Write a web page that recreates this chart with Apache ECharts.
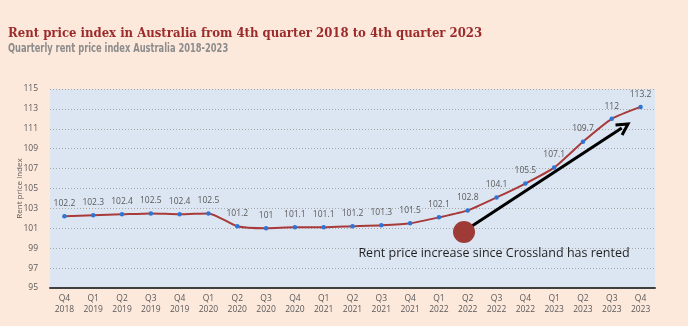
<!DOCTYPE html>
<html>
<head>
<meta charset="utf-8">
<script src="https://cdn.jsdelivr.net/npm/echarts@6/dist/echarts.min.js"></script>
<style>
  html, body { margin: 0; padding: 0; background: #fde9dc; }
  #chart { width: 688px; height: 326px; }
</style>
</head>
<body>
<div id="chart"></div>
<script>
// Quarterly rent price index, Australia
const quarters = ['Q4','Q1','Q2','Q3','Q4','Q1','Q2','Q3','Q4','Q1','Q2','Q3','Q4','Q1','Q2','Q3','Q4','Q1','Q2','Q3','Q4'];
const years = ['2018','2019','2019','2019','2019','2020','2020','2020','2020','2021','2021','2021','2021','2022','2022','2022','2022','2023','2023','2023','2023'];
const rentIndex = [102.2, 102.3, 102.4, 102.5, 102.4, 102.5, 101.2, 101, 101.1, 101.1, 101.2, 101.3, 101.5, 102.1, 102.8, 104.1, 105.5, 107.1, 109.7, 112, 113.2];
const yTicks = [95, 97, 99, 101, 103, 105, 107, 109, 111, 113, 115];

const categories = quarters.map((q, i) => q + '\n' + years[i]);

// Arrow annotation geometry
const arrowFrom = [472, 226];
const arrowTo = [628, 124];
function arrowHead(from, to, len, half) {
  const dx = to[0] - from[0], dy = to[1] - from[1];
  const d = Math.sqrt(dx * dx + dy * dy);
  const ux = dx / d, uy = dy / d;
  const bx = to[0] - ux * len, by = to[1] - uy * len;
  return [[to[0], to[1]], [bx - uy * half, by + ux * half], [bx + uy * half, by - ux * half]];
}
const head = arrowHead(arrowFrom, arrowTo, 11, 6);
const shaftEnd = [arrowTo[0] - (arrowTo[0] - arrowFrom[0]) * 0.04, arrowTo[1] - (arrowTo[1] - arrowFrom[1]) * 0.04];

const chart = echarts.init(document.getElementById('chart'));
chart.setOption({
  backgroundColor: '#fde9dc',
  animation: false,
  title: {
    text: 'Rent price index in Australia from 4th quarter 2018 to 4th quarter 2023',
    left: 3, top: 22,
    textStyle: { fontFamily: 'DejaVu Serif Condensed, DejaVu Serif', fontWeight: 'bold', fontSize: 13, color: '#9b2b2b' }
  },
  grid: {
    left: 50, right: 33, top: 89, bottom: 38,
    show: true, backgroundColor: '#dce6f2', borderWidth: 0
  },
  xAxis: {
    type: 'category',
    data: categories,
    boundaryGap: true,
    axisLine: { lineStyle: { color: '#404040', width: 2 } },
    axisTick: { show: false },
    axisLabel: { color: '#595959', fontSize: 8.5, lineHeight: 11, fontFamily: 'Open Sans', margin: 5 }
  },
  yAxis: {
    type: 'value',
    min: 95, max: 115, interval: 2,
    name: 'Rent price index',
    nameLocation: 'middle',
    nameGap: 26,
    nameMoveOverlap: false,
    nameTextStyle: { color: '#595959', fontSize: 8, fontFamily: 'Open Sans' },
    axisLine: { show: false },
    axisTick: { show: false },
    axisLabel: {
      color: '#595959', fontSize: 8.5, fontFamily: 'Open Sans', margin: 12,
      formatter: v => (yTicks.indexOf(v) >= 0 ? String(v) : '')
    },
    splitLine: { lineStyle: { color: '#a6a6a6', type: [1, 2], width: 1 } }
  },
  series: [{
    type: 'line',
    data: rentIndex,
    smooth: 0.2,
    symbol: 'circle',
    symbolSize: 4.5,
    lineStyle: { color: '#a83a3a', width: 2 },
    itemStyle: { color: '#2e74d6' },
    label: { show: true, position: 'top', distance: 6, color: '#595959', fontSize: 8.5, fontFamily: 'Open Sans' },
    z: 3
  }],
  graphic: [
    {
      // condensed subtitle
      type: 'text',
      x: 8, y: 49,
      scaleX: 0.74,
      style: {
        text: 'Quarterly rent price index Australia 2018-2023',
        fill: '#8c8c8c', font: 'bold 12.5px "DejaVu Sans Condensed"',
        align: 'left', verticalAlign: 'middle'
      }
    },
    {
      type: 'line',
      shape: { x1: arrowFrom[0], y1: arrowFrom[1], x2: shaftEnd[0], y2: shaftEnd[1] },
      style: { stroke: '#000', lineWidth: 3 },
      z: 10
    },
    {
      type: 'polyline',
      shape: { points: [head[1], head[0], head[2]] },
      style: { stroke: '#000', lineWidth: 3, fill: null, lineJoin: 'miter' },
      z: 10
    },
    {
      type: 'circle',
      shape: { cx: 464, cy: 232, r: 11 },
      style: { fill: '#9e3b37' },
      z: 11
    },
    {
      type: 'text',
      x: 494, y: 253,
      style: {
        text: 'Rent price increase since Crossland has rented',
        fill: '#1f1f1f', font: '12.5px "Open Sans"',
        align: 'center', verticalAlign: 'middle'
      },
      z: 11
    }
  ]
});
</script>
</body>
</html>
